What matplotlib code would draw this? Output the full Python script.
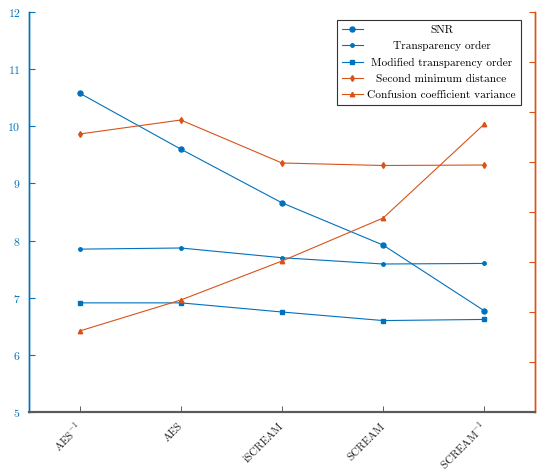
import matplotlib
matplotlib.use("Agg")
import matplotlib.pyplot as plt

plt.rcParams["font.family"] = "serif"
plt.rcParams["font.serif"] = ["cmr10"]
plt.rcParams["mathtext.fontset"] = "cm"
plt.rcParams["axes.formatter.use_mathtext"] = True
plt.rcParams["axes.unicode_minus"] = False

ciphers = ["AES$^{-1}$", "AES", "iSCREAM", "SCREAM", "SCREAM$^{-1}$"]

# left axis metrics
snr = [10.58, 9.60, 8.66, 7.92, 6.77]
transparency_order = [7.85, 7.87, 7.70, 7.59, 7.60]
modified_to = [6.91, 6.91, 6.75, 6.60, 6.62]

# right axis metrics
second_min_distance = [5.56, 5.84, 4.98, 4.93, 4.94]
confusion_variance = [1.62, 2.24, 3.02, 3.88, 5.76]

left_ticks = [5, 6, 7, 8, 9, 10, 11, 12]
right_ticks = [0, 1, 2, 3, 4, 5, 6, 7, 8]

BLUE = "#0072BD"
ORANGE = "#D95319"

fig = plt.figure(figsize=(5.41, 4.73), dpi=100)
ax = fig.add_axes([29 / 541, 61 / 473, 506 / 541, 400 / 473])
ax2 = ax.twinx()

x = list(range(1, len(ciphers) + 1))

lw = 0.8
h1, = ax.plot(x, snr, "-o", color=BLUE, lw=lw, ms=3.6, label="SNR")
h2, = ax.plot(x, transparency_order, "-o", color=BLUE, lw=lw, ms=2.5, label="Transparency order")
h3, = ax.plot(x, modified_to, "-s", color=BLUE, lw=lw, ms=3.4, label="Modified transparency order")
h4, = ax2.plot(x, second_min_distance, "-d", color=ORANGE, lw=lw, ms=3.0, label="Second minimum distance")
h5, = ax2.plot(x, confusion_variance, "-^", color=ORANGE, lw=lw, ms=3.2, label="Confusion coefficient variance")

ax.set_xlim(0.5, 5.5)
ax.set_ylim(5, 12)
ax2.set_ylim(0, 8)
ax.set_yticks(left_ticks)
ax2.set_yticks(right_ticks)

ax.set_xticks(x)
ax.set_xticklabels(ciphers, rotation=45, ha="right", va="center", rotation_mode="anchor")
ax.tick_params(axis="x", direction="in", length=4, width=0.6, color="#444444", pad=9,
               labelsize=8, labelcolor="#222222")
ax.tick_params(axis="y", direction="in", length=4, width=0.8, color=BLUE, pad=6,
               labelsize=8.5, labelcolor=BLUE)
ax2.tick_params(axis="y", direction="in", length=4, width=0.8, color=ORANGE, pad=3.5,
                labelsize=8.5, labelcolor=ORANGE)

for a in (ax, ax2):
    a.spines["top"].set_visible(False)
    a.spines["bottom"].set_color("#5a5a5a")
    a.spines["bottom"].set_linewidth(1.5)
    a.spines["left"].set_color(BLUE)
    a.spines["right"].set_color(ORANGE)
    a.spines["left"].set_linewidth(1.0)
    a.spines["right"].set_linewidth(1.0)
    a.patch.set_visible(False)

leg = ax2.legend(handles=[h1, h2, h3, h4, h5], loc="upper right",
                 bbox_to_anchor=(492 / 506, 0.98), borderaxespad=0, fontsize=8.2,
                 fancybox=False, framealpha=1, edgecolor="#333333",
                 handlelength=1.9, handletextpad=0.35, labelspacing=0.55,
                 borderpad=0.45)
leg.get_frame().set_linewidth(0.8)

# centre each legend label within the text column
fig.canvas.draw()
renderer = fig.canvas.get_renderer()
texts = leg.get_texts()
widths = [t.get_window_extent(renderer).width for t in texts]
wmax = max(widths)
for t, w in zip(texts, widths):
    t.set_x((wmax - w) / 2)

fig.savefig("out.png", dpi=100)
